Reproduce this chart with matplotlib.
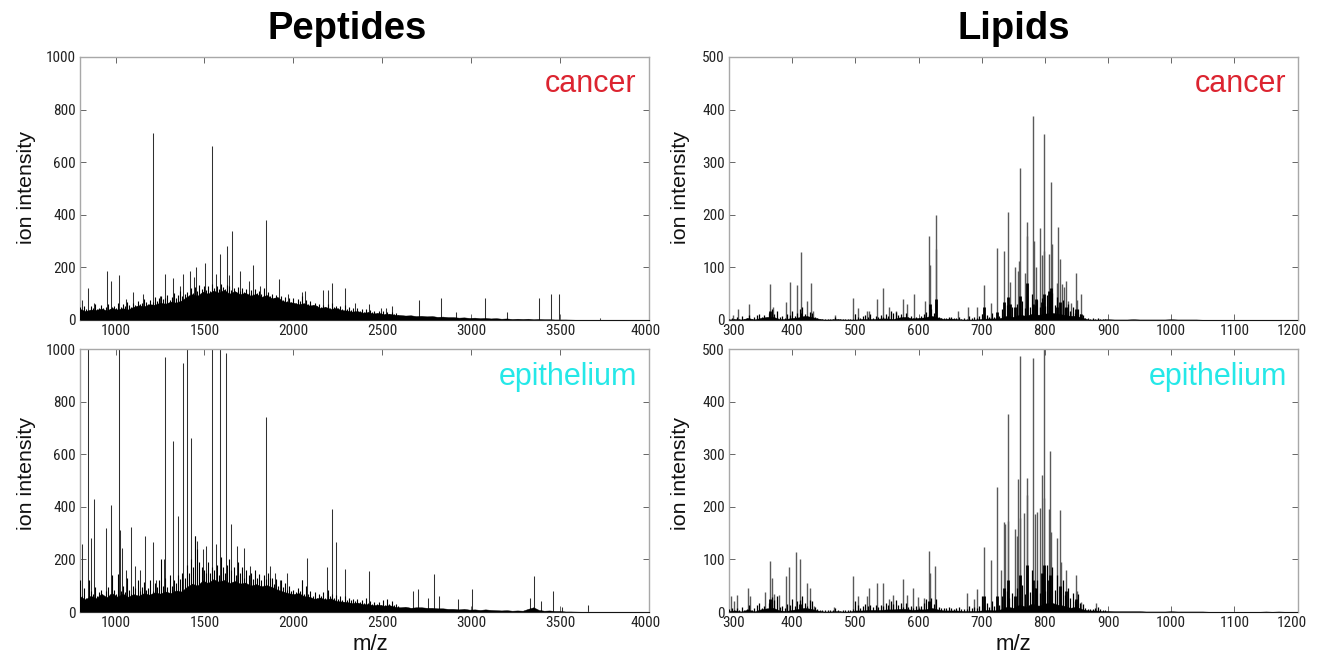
import numpy as np
import matplotlib
matplotlib.use('Agg')
import matplotlib.pyplot as plt
from matplotlib import font_manager as fm
from matplotlib.transforms import ScaledTranslation

plt.rcParams['font.family'] = ['Liberation Sans', 'DejaVu Sans']

W = 1321.0
H = 655.0

# background envelope, one value every 30 m/z from 800
pep_cancer_env = [42,34,40,38,44,36,46,40,45,40,
                  50,56,52,60,58,66,62,70,66,74,
                  88,98,92,108,100,112,104,115,100,110,
                  98,104,92,100,88,95,82,88,72,68,
                  66,60,64,55,58,46,50,42,46,38,
                  36,32,34,28,30,25,27,22,24,20,
                  19,17,18,15,16,14,15,12,13,11,
                  11,9,10,8,9,7,8,6,7,5,
                  6,4,5,4,5,3,4,3,3,2,
                  2,2,1.5,1,1,1,1,1,1,1,
                  1,1,1,0.5,0.5,0.5,0.5,0.5]
# small spikes, one every 12 m/z from 800
pep_cancer_grass = [48,38,52,42,36,55,44,62,40,46,
                    58,44,50,60,42,48,54,46,65,50,
                    60,52,70,56,48,64,58,74,60,66,
                    80,68,62,76,70,88,74,82,90,78,
                    84,96,76,88,102,82,94,110,90,98,
                    108,96,120,104,126,110,132,118,128,114,
                    130,112,136,120,128,116,138,124,118,132,
                    128,114,122,108,126,112,120,106,118,102,
                    114,100,118,104,110,98,122,96,108,92,
                    100,84,96,80,92,76,88,72,84,70,
                    82,66,78,72,90,62,76,60,72,56,
                    66,54,62,50,58,48,60,46,64,50,
                    54,44,52,42,56,40,48,38,46,36,
                    44,34,42,32,40,30,38,30,36,28,
                    34,26,36,24,30,24,32,22,28,20]
pep_cancer_mz = [812,845,880,950,977,1022,1060,1100,1155,1208,1250,1280,1325,1360,1380,1420,
                 1440,1450,1505,1540,1565,1590,1625,1640,1655,1700,1750,1775,1810,1848,1920,
                 1970,2050,2065,2165,2195,2215,2290,2345,2425,2490,2520,2555,2705,2830,2915,
                 3080,3200,3380,3450,3495,3725]
pep_cancer_int = [75,120,65,185,150,170,80,105,100,710,90,175,160,130,175,185,
                  165,200,215,660,175,250,280,170,340,185,150,210,130,380,155,
                  100,105,110,115,115,140,120,65,60,45,45,55,75,85,30,
                  85,30,85,100,100,8]

pep_epi_env = [60,48,62,52,70,56,72,58,70,58,
               68,62,72,66,75,70,78,72,82,78,
               95,108,100,120,110,125,115,122,110,118,
               108,112,100,106,98,102,95,85,78,72,
               68,72,60,58,50,55,48,52,42,40,
               38,34,36,30,30,26,28,24,26,20,
               18,20,16,18,18,16,16,14,14,12,
               12,10,12,9,10,8,10,8,7,6,
               7,5,6,5,12,18,8,5,6,4,
               4,2,2,1.5,1,1,1,1,1,1,
               1,1,1,1,0.5,0.5,0.5,0.5]
pep_epi_grass = [120,60,90,55,120,80,70,95,60,75,
                 85,60,80,95,70,140,85,70,145,80,
                 100,75,130,85,70,100,90,120,80,95,
                 115,85,90,120,80,110,95,120,200,100,
                 130,95,140,100,120,110,140,125,150,130,
                 180,150,200,170,290,240,190,170,160,150,
                 190,150,170,160,180,140,210,170,150,180,
                 200,160,170,140,190,150,170,130,160,140,
                 150,125,160,130,145,120,140,125,150,130,
                 130,105,125,100,120,95,110,85,100,80,
                 85,75,90,80,120,70,100,70,80,62,
                 75,55,70,60,75,55,85,60,70,55,
                 65,50,60,45,60,45,55,45,50,40,
                 50,38,46,35,52,34,42,32,38,30,
                 38,28,44,28,48,30,42,26,32,24]
pep_epi_mz = [812,845,860,880,945,975,1018,1025,1035,1060,1085,1110,1135,1165,1212,1230,
              1270,1280,1322,1350,1378,1400,1425,1445,1460,1490,1510,1540,1565,1585,1620,
              1650,1685,1720,1755,1845,1870,1895,1925,1965,2050,2075,2190,2220,2240,2290,
              2425,2670,2700,2755,2790,2820,2925,3005,3330,3355,3390,3460,3510,3655]
pep_epi_int = [260,1000,280,430,320,405,1000,310,245,160,325,175,160,290,265,120,
               200,970,650,365,945,1000,660,290,270,240,250,1000,260,1000,985,
               335,250,245,175,740,175,150,120,150,120,205,170,390,265,165,
               155,80,88,55,145,60,50,88,55,135,40,78,20,28]

# background envelope, one value every 10 m/z from 300
lip_cancer_env = [1,2,1,4,1,4,6,6,2,2,
                  4,5,8,6,3,1,1,2,1,1,
                  1,2,2,2,3,3,2,5,6,3,
                  4,5,8,5,2,3,2,1,1,1,
                  2,3,3,4,8,6,10,8,12,10,
                  12,14,12,10,8,8,4,1,1,1,
                  1.5,1,1,1,1.5,1,1,1,1,1,
                  1.5,1,1,1,1,0.5,0.5,0.5,0.5,0.5,
                  0.5,0.5,0.5,0.5,0.5,0.5,0.5,0.5,0.5,0.5,
                  0.5]
# small spikes, one every 4 m/z from 300
lip_cancer_grass = [2,4,1,6,2,8,1,3,10,2,
                    5,9,12,6,10,4,14,20,12,18,
                    6,8,4,12,10,18,8,14,20,25,
                    12,8,16,14,6,3,2,1,2,1,
                    1,2,6,2,1,1,2,1,1,2,
                    12,6,3,8,10,6,12,4,8,5,
                    10,6,12,8,18,14,16,10,12,6,
                    14,6,8,4,6,3,8,12,16,10,
                    20,14,30,6,4,3,4,6,5,3,
                    4,6,2,3,2,8,4,6,3,8,
                    12,6,10,5,14,6,12,8,20,14,
                    28,18,24,16,30,20,36,22,45,24,
                    50,28,38,24,42,26,48,30,52,28,
                    44,26,38,22,30,18,24,14,20,12,
                    10,4,3,2,3,2,4,2,2,1]
lip_cancer_mz = [306,314,331,365,369,391,397,407,414,423,430,433,468,497,505,518,522,534,544,
                 554,565,576,582,593,611,616,618,627,628,662,678,693,703,715,725,735,742,745,
                 752,757,759,760,768,771,772,782,783,786,793,796,798,799,806,809,811,819,821,
                 824,827,831,834,837,842,849,851,858]
lip_cancer_int = [10,20,30,68,25,35,72,67,130,37,70,18,10,42,23,18,18,40,60,
                  25,18,40,30,50,37,160,105,200,135,17,24,24,67,33,136,132,205,72,
                  101,94,112,289,89,160,186,387,150,100,175,124,354,132,125,263,144,70,177,
                  116,68,63,74,37,32,89,38,49]
lip_cancer_stub_mz = [365,414,618,628,703,725,735,742,745,752,760,771,782,786,796,799,806,809,819,824,834,849,858]
lip_cancer_stub_int = [18,14,30,40,24,15,35,43,30,25,45,70,30,40,35,50,55,60,25,35,25,20,12]

lip_epi_env = [2,3,1,5,1,5,7,8,3,2,
               4,6,8,6,3,1,1,2,1,1,
               3,3,4,4,4,5,5,6,6,4,
               5,5,8,5,3,3,3,2,2,2,
               3,4,3,5,10,8,14,10,16,12,
               16,18,14,12,8,10,5,3,3,2,
               2,1.5,1.5,1.5,1.5,1.5,1,1,1,1,
               1.5,1,1,1,1,1,0.5,0.5,0.5,0.5,
               0.5,0.5,0.5,0.5,0.5,1,0.5,1,0.5,0.5,
               0.5]
lip_epi_grass = [6,8,3,8,4,10,3,6,14,4,
                 8,14,18,8,12,6,18,28,22,30,
                 10,12,8,16,14,25,12,20,22,30,
                 18,12,22,20,10,5,4,3,4,3,
                 3,4,8,3,2,3,4,3,3,5,
                 20,14,8,12,16,12,14,10,14,10,
                 14,12,18,14,20,16,22,14,18,10,
                 18,10,12,8,12,8,12,18,24,14,
                 26,16,24,10,8,8,8,10,8,6,
                 8,10,5,6,6,12,8,10,8,12,
                 30,14,18,10,20,12,24,14,30,22,
                 40,26,36,24,45,30,52,34,70,38,
                 80,45,60,36,70,40,90,50,85,42,
                 70,40,60,32,45,26,36,20,34,18,
                 16,8,6,5,6,8,10,6,4,3]
lip_epi_mz = [303,308,313,330,333,357,365,368,372,379,390,395,406,413,423,429,435,467,496,505,
              518,522,534,544,554,559,575,582,592,599,609,616,618,626,677,688,692,703,714,725,
              731,735,737,741,742,752,756,758,760,761,767,771,772,782,784,787,792,796,798,799,
              806,808,810,820,824,826,833,849,851,858,881]
lip_epi_int = [30,20,33,45,30,38,97,65,35,33,68,86,115,100,55,46,12,10,68,30,
               30,45,55,56,24,32,62,33,45,28,26,116,75,88,37,25,44,124,98,238,
               79,172,168,376,173,157,145,252,486,179,189,255,223,482,187,190,198,261,500,217,
               196,307,152,141,193,95,79,71,39,19,18]
lip_epi_stub_mz = [365,413,616,703,725,735,741,752,760,771,782,786,796,799,806,808,824,833,849]
lip_epi_stub_int = [25,15,20,30,30,45,60,30,70,90,60,45,75,90,60,70,50,40,25]

pep_ticks = [1000,1500,2000,2500,3000,3500,4000]
lip_ticks = [300,400,500,600,700,800,900,1000,1100,1200]
pep_yticks = [0,200,400,600,800,1000]
lip_yticks = [0,100,200,300,400,500]

# narrow tick font if there is one
names = set(f.name for f in fm.fontManager.ttflist)
tick_font = 'Liberation Sans'
tick_size = 10
for n in ['Liberation Sans Narrow', 'Roboto Condensed', 'Open Sans Condensed', 'DejaVu Sans Condensed']:
    if n in names:
        tick_font = n
        tick_size = 11
        break


def make_ax(left, top, right, bottom):
    return fig.add_axes([left/W, 1-bottom/H, (right-left)/W, (bottom-top)/H])


def panel(ax, env, step, xstart, mz, vals, grass, gstep, xlim, ylim, xticks, yticks,
          stub_mz=None, stub_vals=None, dxs=(0,0), peak_lw=0.75, peak_col='#303030', grass_lw=0.8):
    ax.vlines(mz, 0, vals, color=peak_col, lw=peak_lw, zorder=2)
    gx = xstart + gstep*np.arange(len(grass))
    ax.vlines(gx, 0, grass, color='black', lw=grass_lw, zorder=3)
    xs = xstart + step*np.arange(len(env))
    ax.fill_between(xs, 0, env, color='black', lw=0.3, zorder=4)
    if stub_mz is not None:
        ax.vlines(stub_mz, 0, stub_vals, color='black', lw=2.0, zorder=5)
    ax.set_xlim(xlim)
    ax.set_ylim(ylim)
    ax.set_xticks(xticks)
    ax.set_yticks(yticks)
    ax.tick_params(direction='in', top=True, right=True, length=4, width=0.7, color='#666666',
                   labelsize=tick_size, labelcolor='#222222', pad=3)
    for lab in ax.get_xticklabels() + ax.get_yticklabels():
        lab.set_fontfamily(tick_font)
    xlabs = ax.get_xticklabels()
    xlabs[0].set_transform(xlabs[0].get_transform() + ScaledTranslation(dxs[0]/100, 0, fig.dpi_scale_trans))
    xlabs[-1].set_transform(xlabs[-1].get_transform() + ScaledTranslation(dxs[1]/100, 0, fig.dpi_scale_trans))
    for s in ax.spines.values():
        s.set_color('#a8a8a8')
        s.set_linewidth(1.0)


fig = plt.figure(figsize=(W/100, H/100), dpi=100, facecolor='white')

ax1 = make_ax(80, 57, 649, 320)
panel(ax1, pep_cancer_env, 30, 800, pep_cancer_mz, pep_cancer_int, pep_cancer_grass, 12,
      (800,4000), (0,1000), pep_ticks, pep_yticks, dxs=(0,-3))
ax2 = make_ax(80, 349, 649, 612)
panel(ax2, pep_epi_env, 30, 800, pep_epi_mz, pep_epi_int, pep_epi_grass, 12,
      (800,4000), (0,1000), pep_ticks, pep_yticks, dxs=(0,-3))
ax3 = make_ax(729, 57, 1297.5, 320)
panel(ax3, lip_cancer_env, 10, 300, lip_cancer_mz, lip_cancer_int, lip_cancer_grass, 4,
      (300,1200), (0,500), lip_ticks, lip_yticks, lip_cancer_stub_mz, lip_cancer_stub_int, dxs=(5,-6),
      peak_lw=1.0, peak_col='#5a5a5a', grass_lw=0.9)
ax4 = make_ax(729, 349, 1297.5, 612)
panel(ax4, lip_epi_env, 10, 300, lip_epi_mz, lip_epi_int, lip_epi_grass, 4,
      (300,1200), (0,500), lip_ticks, lip_yticks, lip_epi_stub_mz, lip_epi_stub_int, dxs=(5,-6),
      peak_lw=1.0, peak_col='#5a5a5a', grass_lw=0.9)

fig.text(347/W, 1-29/H, 'Peptides', fontsize=27.5, fontweight='bold', ha='center', va='center', color='black')
fig.text(1013.5/W, 1-29/H, 'Lipids', fontsize=27.5, fontweight='bold', ha='center', va='center', color='black')

for x, y in [(26,187), (26,473), (681,187), (681,473)]:
    fig.text(x/W, 1-y/H, 'ion intensity', fontsize=15.4, rotation=90, ha='center', va='center', color='#111111')
for x in [370, 1013]:
    fig.text(x/W, 1-645/H, 'm/z', fontsize=16, ha='center', va='center', color='#111111')

for x in [636, 1286]:
    fig.text(x/W, 1-92/H, 'cancer', fontsize=22, ha='right', va='baseline', color='#dc2430')
for x in [637, 1287]:
    fig.text(x/W, 1-385/H, 'epithelium', fontsize=22, ha='right', va='baseline', color='#25e8e8')

fig.savefig('out.png', dpi=100, facecolor='white')
